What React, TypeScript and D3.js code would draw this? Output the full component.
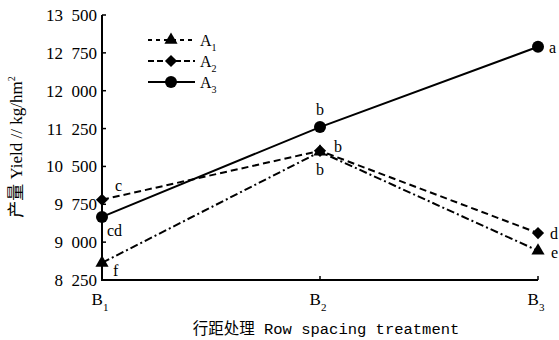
import React from 'react';
import * as d3 from 'd3';

const treatments = ['B1', 'B2', 'B3'];
const yTicks = [8250, 9000, 9750, 10500, 11250, 12000, 12750, 13500];

const seriesA1 = [8590, 10790, 8830];
const seriesA2 = [9840, 10810, 9180];
const seriesA3 = [9500, 11280, 12870];

const lettersA1 = ['f', 'b', 'e'];
const lettersA2 = ['c', 'b', 'd'];
const lettersA3 = ['cd', 'b', 'a'];

const W = 559;
const H = 340;
const serif = '"Liberation Serif", "Times New Roman", serif';

const x = d3.scalePoint<string>().domain(treatments).range([102, 538]);
const y = d3.scaleLinear().domain([8250, 13500]).range([280, 15]);

const fmt = (v: number) => {
  const s = String(v);
  return s.slice(0, s.length - 3) + '\u2002' + s.slice(-3);
};

const series = [
  { name: '1', values: seriesA1, letters: lettersA1, dash: '8,3,2,3', legendDash: '4,4', marker: 'triangle' },
  { name: '2', values: seriesA2, letters: lettersA2, dash: '7,4', legendDash: '6,3', marker: 'diamond' },
  { name: '3', values: seriesA3, letters: lettersA3, dash: null, legendDash: null, marker: 'circle' },
];

// letter offsets per series / point (dx, dy) relative to the marker
const letterPos: [number, number, string][][] = [
  [[11, 8, 'start'], [0, 18, 'middle'], [13, 2, 'start']],
  [[13, -14, 'start'], [14, -4, 'start'], [12, 0, 'start']],
  [[5, 13, 'start'], [0, -18, 'middle'], [11, 1, 'start']],
];

function Marker({ type, cx, cy }: { type: string; cx: number; cy: number }) {
  if (type === 'circle') return <circle cx={cx} cy={cy} r={6} fill="#000" />;
  if (type === 'diamond') {
    const s = d3.symbol().type(d3.symbolDiamond2).size(95)();
    return <path d={s || ''} transform={`translate(${cx},${cy})`} fill="#000" />;
  }
  const t = d3.symbol().type(d3.symbolTriangle).size(75)();
  return <path d={t || ''} transform={`translate(${cx},${cy})`} fill="#000" />;
}

export default function App() {
  const line = d3
    .line<number>()
    .x((_, i) => x(treatments[i]) as number)
    .y((d) => y(d));

  return (
    <svg width={W} height={H} style={{ position: 'absolute', left: 0, top: 0, background: '#fff' }}>
      {/* axes */}
      <line x1={102} x2={102} y1={y(13500)} y2={y(8250)} stroke="#000" strokeWidth={2} />
      <line x1={101} x2={538} y1={y(8250)} y2={y(8250)} stroke="#000" strokeWidth={2} />
      {yTicks.map((t) => (
        <g key={t}>
          <line x1={102} x2={106} y1={y(t)} y2={y(t)} stroke="#000" strokeWidth={1.5} />
          <text x={97} y={y(t)} dy="0.35em" textAnchor="end" fontFamily={serif} fontSize={17}>
            {fmt(t)}
          </text>
        </g>
      ))}
      {treatments.map((b) => (
        <g key={b}>
          <line x1={x(b)} x2={x(b)} y1={y(8250)} y2={y(8250) - 4} stroke="#000" strokeWidth={1.5} />
          <text x={(x(b) as number) - 2} y={305} textAnchor="middle" fontFamily={serif} fontSize={17}>
            B<tspan fontSize={11} dy={6}>{b.slice(1)}</tspan>
          </text>
        </g>
      ))}

      {/* axis titles */}
      <text
        x={326}
        y={334}
        textAnchor="middle"
        fontFamily='"Liberation Mono", "Noto Sans CJK SC", monospace'
        fontSize={15.5}
      >
        行距处理 Row spacing treatment
      </text>
      <text
        transform="translate(22,147) rotate(-90)"
        textAnchor="middle"
        fontFamily={`${serif}, "Noto Sans CJK SC"`}
        fontSize={17}
      >
        <tspan fontFamily='"Noto Sans CJK SC"'>产量</tspan> Yield // kg/hm<tspan fontSize={10} dy={-7}>2</tspan>
      </text>

      {/* series */}
      {series.map((s, si) => (
        <g key={s.name}>
          <path
            d={line(s.values) || ''}
            fill="none"
            stroke="#000"
            strokeWidth={2}
            strokeDasharray={s.dash || undefined}
          />
          {s.values.map((v, i) => (
            <Marker key={i} type={s.marker} cx={x(treatments[i]) as number} cy={y(v)} />
          ))}
          {s.values.map((v, i) => (
            <text
              key={'l' + i}
              x={(x(treatments[i]) as number) + letterPos[si][i][0]}
              y={y(v) + letterPos[si][i][1]}
              dy="0.35em"
              textAnchor={letterPos[si][i][2]}
              fontFamily={serif}
              fontSize={16}
            >
              {s.letters[i]}
            </text>
          ))}
        </g>
      ))}

      {/* legend */}
      {series.map((s, si) => {
        const ly = 40 + si * 21;
        return (
          <g key={'lg' + s.name}>
            <line
              x1={148}
              x2={195}
              y1={ly}
              y2={ly}
              stroke="#000"
              strokeWidth={2}
              strokeDasharray={s.legendDash || undefined}
            />
            <Marker type={s.marker} cx={171} cy={ly} />
            <text x={200} y={ly} dy="0.35em" fontFamily={serif} fontSize={16}>
              A<tspan fontSize={10} dy={5}>{s.name}</tspan>
            </text>
          </g>
        );
      })}
    </svg>
  );
}
